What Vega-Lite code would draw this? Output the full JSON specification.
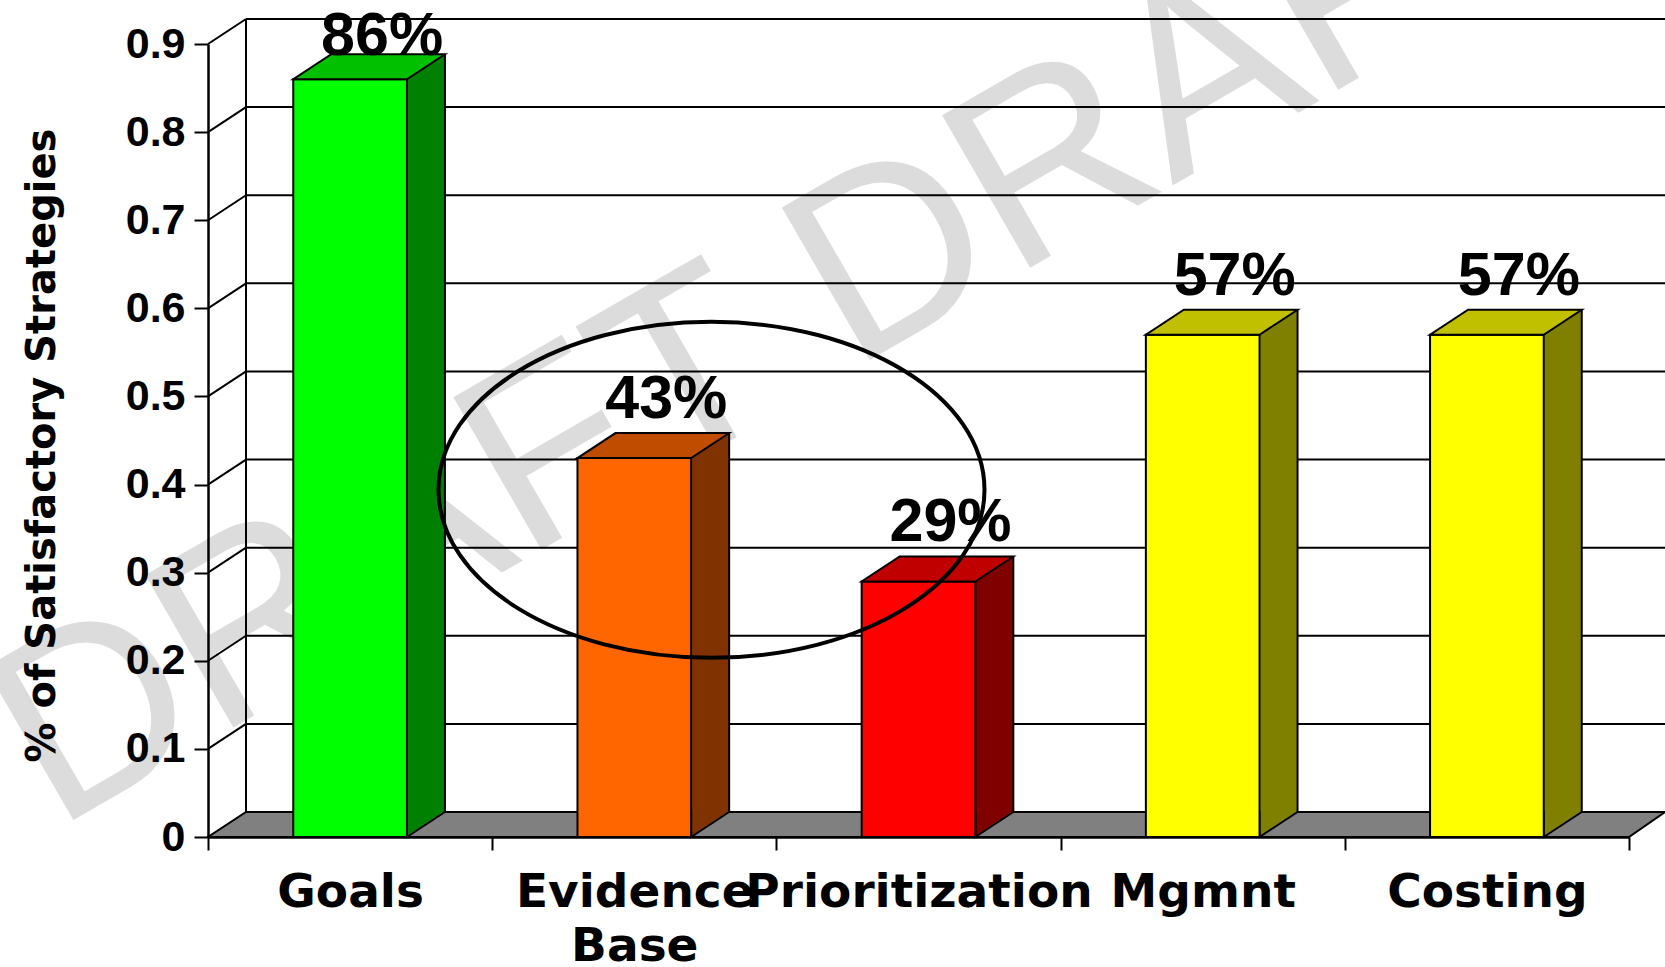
{
  "$schema": "https://vega.github.io/schema/vega-lite/v6.json",
  "width": 1421,
  "height": 793,
  "autosize": {"type": "none"},
  "padding": {"left": 208, "top": 44, "right": 36, "bottom": 130},
  "background": "white",
  "config": {"view": {"stroke": null}, "font": "Liberation Sans"},
  "datasets": {
    "strategies": [
      {"cat": "Goals", "pct": 0.86},
      {"cat": "Evidence Base", "pct": 0.43},
      {"cat": "Prioritization", "pct": 0.29},
      {"cat": "Mgmnt", "pct": 0.57},
      {"cat": "Costing", "pct": 0.57}
    ],
    "gridTicks": [
      {"v": 0.1}, {"v": 0.2}, {"v": 0.3}, {"v": 0.4}, {"v": 0.5},
      {"v": 0.6}, {"v": 0.7}, {"v": 0.8}, {"v": 0.9}
    ]
  },
  "resolve": {"scale": {"fill": "independent"}},
  "layer": [
    {
      "data": {"values": [{}]},
      "mark": {"type": "text", "text": "DRAFT DRAFT", "font": "Liberation Sans", "fontSize": 256, "fontWeight": "normal", "color": "#dcdcdc", "angle": 330, "align": "center", "baseline": "alphabetic", "xOffset": -95.5},
      "encoding": {
        "x": {"datum": "Prioritization", "type": "nominal"},
        "y": {"datum": 0.5105, "type": "quantitative"}
      }
    },
    {
      "data": {"name": "gridTicks"},
      "mark": {"type": "rule", "stroke": "black", "strokeWidth": 2, "x2Offset": 38, "y2Offset": -25},
      "encoding": {
        "x": {"value": 0},
        "x2": {"value": 0},
        "y": {"field": "v", "type": "quantitative"},
        "y2": {"field": "v"}
      }
    },
    {
      "data": {"name": "gridTicks"},
      "mark": {"type": "rule", "stroke": "black", "strokeWidth": 2, "xOffset": 38, "x2Offset": 36, "yOffset": -25},
      "encoding": {
        "x": {"value": 0},
        "x2": {"value": "width"},
        "y": {"field": "v", "type": "quantitative"}
      }
    },
    {
      "data": {"values": [{}]},
      "mark": {"type": "rule", "stroke": "black", "strokeWidth": 2, "xOffset": 38, "yOffset": -25, "y2Offset": -25},
      "encoding": {
        "x": {"value": 0},
        "y": {"datum": 0.9, "type": "quantitative"},
        "y2": {"datum": 0}
      }
    },
    {
      "data": {"values": [{}]},
      "mark": {"type": "point", "shape": "M -710.5 0 L 710.5 0 L 746.5 -25 L -672.5 -25 Z", "size": 4, "filled": true, "fill": "#808080", "stroke": "black", "strokeWidth": 2, "opacity": 1},
      "encoding": {
        "x": {"datum": "Prioritization", "type": "nominal"},
        "y": {"datum": 0, "type": "quantitative"}
      }
    },
    {
      "data": {"name": "strategies"},
      "mark": {"type": "bar", "width": 38, "xOffset": 75.84, "yOffset": -25, "y2Offset": -25, "strokeWidth": 0},
      "encoding": {
        "x": {"field": "cat", "type": "nominal"},
        "y": {"field": "pct", "type": "quantitative"},
        "y2": {"datum": 0},
        "fill": {"field": "cat", "type": "nominal", "legend": null,
          "scale": {"domain": ["Goals", "Evidence Base", "Prioritization", "Mgmnt", "Costing"], "range": ["#008000", "#803300", "#800000", "#808000", "#808000"]}}
      }
    },
    {
      "data": {"name": "strategies"},
      "mark": {"type": "point", "shape": "M 56.84 -26 L 56.84 0 L 94.84 -25", "size": 4, "filled": true, "stroke": "black", "strokeWidth": 2, "opacity": 1},
      "encoding": {
        "x": {"field": "cat", "type": "nominal"},
        "y": {"datum": 0, "type": "quantitative"},
        "fill": {"field": "cat", "type": "nominal", "legend": null,
          "scale": {"domain": ["Goals", "Evidence Base", "Prioritization", "Mgmnt", "Costing"], "range": ["#008000", "#803300", "#800000", "#808000", "#808000"]}}
      }
    },
    {
      "data": {"name": "strategies"},
      "mark": {"type": "rule", "stroke": "black", "strokeWidth": 2, "xOffset": 94.84, "yOffset": -25, "y2Offset": -25},
      "encoding": {
        "x": {"field": "cat", "type": "nominal"},
        "y": {"field": "pct", "type": "quantitative"},
        "y2": {"datum": 0}
      }
    },
    {
      "data": {"name": "strategies"},
      "mark": {"type": "bar", "width": {"band": 0.4}, "stroke": "black", "strokeWidth": 2},
      "encoding": {
        "x": {
          "field": "cat", "type": "nominal",
          "scale": {"domain": ["Goals", "Evidence Base", "Prioritization", "Mgmnt", "Costing"], "paddingInner": 0, "paddingOuter": 0},
          "axis": {
            "title": null, "grid": false, "zindex": 1,
            "domainColor": "black", "domainWidth": 2.5,
            "tickColor": "black", "tickWidth": 2, "tickSize": 13, "tickBand": "extent", "bandPosition": 0.5,
            "labelFont": "DejaVu Sans", "labelFontWeight": "bold", "labelFontSize": 47, "labelColor": "black",
            "labelPadding": 56, "labelBaseline": "alphabetic", "labelAlign": "center", "labelAngle": 0, "labelLimit": 0,
            "labelOverlap": false, "labelFlush": false, "labelLineHeight": 54,
            "labelExpr": "datum.value == 'Evidence Base' ? ['Evidence', 'Base'] : datum.label"
          }
        },
        "y": {
          "field": "pct", "type": "quantitative",
          "scale": {"domain": [0, 0.9], "nice": false, "zero": true},
          "axis": {
            "title": "% of Satisfactory Strategies", "grid": false, "zindex": 1,
            "values": [0, 0.1, 0.2, 0.3, 0.4, 0.5, 0.6, 0.7, 0.8, 0.9], "format": "~g",
            "domainColor": "black", "domainWidth": 2.5,
            "tickColor": "black", "tickWidth": 2, "tickSize": 14,
            "labelFont": "Liberation Sans", "labelFontWeight": "bold", "labelFontSize": 43, "labelColor": "black",
            "labelPadding": 9, "labelLimit": 0, "labelFlush": false, "labelOverlap": false,
            "titleFont": "DejaVu Sans", "titleFontWeight": "bold", "titleFontSize": 40, "titleColor": "black",
            "titleX": -166, "titleY": 401, "titleAngle": 270, "titleAlign": "center", "titleBaseline": "middle", "titleLimit": 0
          }
        },
        "fill": {"field": "cat", "type": "nominal", "legend": null,
          "scale": {"domain": ["Goals", "Evidence Base", "Prioritization", "Mgmnt", "Costing"], "range": ["#00FF00", "#FF6600", "#FF0000", "#FFFF00", "#FFFF00"]}}
      }
    },
    {
      "data": {"name": "strategies"},
      "mark": {"type": "point", "shape": "M -56.84 0 L 56.84 0 L 94.84 -25 L -18.84 -25 Z", "size": 4, "filled": true, "stroke": "black", "strokeWidth": 2, "opacity": 1},
      "encoding": {
        "x": {"field": "cat", "type": "nominal"},
        "y": {"field": "pct", "type": "quantitative"},
        "fill": {"field": "cat", "type": "nominal", "legend": null,
          "scale": {"domain": ["Goals", "Evidence Base", "Prioritization", "Mgmnt", "Costing"], "range": ["#00C000", "#C04C00", "#C00000", "#C0C000", "#C0C000"]}}
      }
    },
    {
      "data": {"name": "strategies"},
      "mark": {"type": "text", "font": "Liberation Sans", "fontWeight": "bold", "fontSize": 61, "color": "black", "align": "center", "baseline": "alphabetic", "dx": 32, "dy": {"expr": "datum.pct > 0.8 ? -24 : -40"}},
      "encoding": {
        "x": {"field": "cat", "type": "nominal"},
        "y": {"field": "pct", "type": "quantitative"},
        "text": {"field": "pct", "type": "quantitative", "format": ".0%"}
      }
    },
    {
      "data": {"values": [{}]},
      "mark": {"type": "point", "shape": "M -1 0 C -1 -0.3399 -0.5523 -0.6154 0 -0.6154 C 0.5523 -0.6154 1 -0.3399 1 0 C 1 0.3399 0.5523 0.6154 0 0.6154 C -0.5523 0.6154 -1 0.3399 -1 0 Z", "size": 298116, "filled": false, "stroke": "black", "strokeWidth": 4, "opacity": 1, "xOffset": 77.2},
      "encoding": {
        "x": {"datum": "Evidence Base", "type": "nominal"},
        "y": {"datum": 0.394, "type": "quantitative"}
      }
    }
  ]
}
